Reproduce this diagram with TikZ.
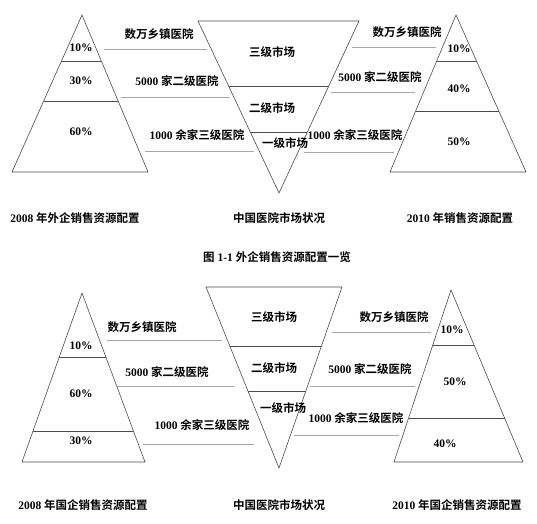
\documentclass[tikz,border=0pt]{standalone}
\usepackage{fontspec}
\setmainfont{Liberation Serif}
\newfontfamily\cjk{Noto Sans CJK SC}[BoldFont={Noto Sans CJK SC Bold}]
\usetikzlibrary{calc}
\newcommand{\zh}[1]{{\cjk #1}}

\begin{document}
\begin{tikzpicture}[x=1pt,y=-1pt,
    tri/.style={draw=black!70, line width=0.6pt},
    guide/.style={draw=black!35, line width=0.7pt},
    txt/.style={font=\bfseries\fontsize{11.5}{13}\selectfont, inner sep=0pt}]
  \fill[white] (0,0) rectangle (537,523);
  \useasboundingbox (0,0) rectangle (537,523);
  % top: foreign companies
  \coordinate (a1) at (82,15);  \coordinate (a2) at (12,172);  \coordinate (a3) at (148,172);
  \coordinate (m1) at (198,21); \coordinate (m2) at (359,21);  \coordinate (m3) at (279,193);
  \coordinate (b1) at (456,15); \coordinate (b2) at (390,172); \coordinate (b3) at (526,172);
  \draw[tri] (a1) -- (a2) -- (a3) -- cycle;
  \draw[tri] ($(a1)!0.293!(a2)$) -- ($(a1)!0.293!(a3)$);
  \draw[tri] ($(a1)!0.548!(a2)$) -- ($(a1)!0.548!(a3)$);
  \draw[tri] (m1) -- (m2) -- (m3) -- cycle;
  \draw[tri] ($(m1)!0.378!(m3)$) -- ($(m2)!0.378!(m3)$);
  \draw[tri] ($(m1)!0.645!(m3)$) -- ($(m2)!0.645!(m3)$);
  \draw[tri] (b1) -- (b2) -- (b3) -- cycle;
  \draw[tri] ($(b1)!0.293!(b2)$) -- ($(b1)!0.293!(b3)$);
  \draw[tri] ($(b1)!0.611!(b2)$) -- ($(b1)!0.611!(b3)$);
  \draw[guide] (104,49) -- (207,49);
  \draw[guide] (121,97) -- (230,97);
  \draw[guide] (145,151) -- (254,151);
  \draw[guide] (352,47) -- (436,47);
  \draw[guide] (331,92) -- (415,92);
  \draw[guide] (304,152) -- (394,152);
  \node[txt] (ap1) at (81,48)  {10\%};
  \node[txt] (ap2) at (81,81)  {30\%};
  \node[txt] (ap3) at (81,132) {60\%};
  \node[txt] (bp1) at (459,49)  {10\%};
  \node[txt] (bp2) at (459,89)  {40\%};
  \node[txt] (bp3) at (459,142) {50\%};
  \node[txt] (al1) at (159,34)  {\zh{数万乡镇医院}};
  \node[txt] (al2) at (177,81)  {5000 \zh{家二级医院}};
  \node[txt] (al3) at (197,135) {1000 \zh{余家三级医院}};
  \node[txt] (bl1) at (407,32)  {\zh{数万乡镇医院}};
  \node[txt] (bl2) at (380,77)  {5000 \zh{家二级医院}};
  \node[txt] (bl3) at (355,135) {1000 \zh{余家三级医院}};
  \node[txt] (ml1) at (272,52)  {\zh{三级市场}};
  \node[txt] (ml2) at (272,108) {\zh{二级市场}};
  \node[txt] (ml3) at (285,143) {\zh{一级市场}};
  \node[txt] (at) at (75,218)  {2008 \zh{年外企销售资源配置}};
  \node[txt] (mt) at (279,218) {\zh{中国医院市场状况}};
  \node[txt] (bt) at (460,218) {2010 \zh{年销售资源配置}};
  \node[txt] (cap) at (277,257) {\zh{图} 1-1 \zh{外企销售资源配置一览}};
  % bottom: state-owned companies
  \coordinate (c1) at (82,293);  \coordinate (c2) at (22,462);  \coordinate (c3) at (145,462);
  \coordinate (n1) at (206,287); \coordinate (n2) at (342,287); \coordinate (n3) at (279,468);
  \coordinate (d1) at (451,290); \coordinate (d2) at (394,462); \coordinate (d3) at (523,462);
  \draw[tri] (c1) -- (c2) -- (c3) -- cycle;
  \draw[tri] ($(c1)!0.379!(c2)$) -- ($(c1)!0.379!(c3)$);
  \draw[tri] ($(c1)!0.817!(c2)$) -- ($(c1)!0.817!(c3)$);
  \draw[tri] (n1) -- (n2) -- (n3) -- cycle;
  \draw[tri] ($(n1)!0.326!(n3)$) -- ($(n2)!0.326!(n3)$);
  \draw[tri] ($(n1)!0.575!(n3)$) -- ($(n2)!0.575!(n3)$);
  \draw[tri] (d1) -- (d2) -- (d3) -- cycle;
  \draw[tri] ($(d1)!0.320!(d2)$) -- ($(d1)!0.320!(d3)$);
  \draw[tri] ($(d1)!0.744!(d2)$) -- ($(d1)!0.744!(d3)$);
  \draw[guide] (107,340) -- (222,340);
  \draw[guide] (117,386) -- (234,386);
  \draw[guide] (143,444) -- (254,444);
  \draw[guide] (332,332) -- (431,332);
  \draw[guide] (310,386) -- (415,386);
  \draw[guide] (294,435) -- (399,435);
  \node[txt] (cp1) at (81,346) {10\%};
  \node[txt] (cp2) at (81,394) {60\%};
  \node[txt] (cp3) at (81,441) {30\%};
  \node[txt] (dp1) at (452,330) {10\%};
  \node[txt] (dp2) at (455,382) {50\%};
  \node[txt] (dp3) at (445,444) {40\%};
  \node[txt] (cl1) at (142,327) {\zh{数万乡镇医院}};
  \node[txt] (cl2) at (167,372) {5000 \zh{家二级医院}};
  \node[txt] (cl3) at (202,425) {1000 \zh{余家三级医院}};
  \node[txt] (dl1) at (394,317) {\zh{数万乡镇医院}};
  \node[txt] (dl2) at (370,369) {5000 \zh{家二级医院}};
  \node[txt] (dl3) at (356,418) {1000 \zh{余家三级医院}};
  \node[txt] (nl1) at (274,317) {\zh{三级市场}};
  \node[txt] (nl2) at (274,368) {\zh{二级市场}};
  \node[txt] (nl3) at (283,408) {\zh{一级市场}};
  \node[txt] (ct) at (83,505)  {2008 \zh{年国企销售资源配置}};
  \node[txt] (nt) at (279,505) {\zh{中国医院市场状况}};
  \node[txt] (dt) at (457,505) {2010 \zh{年国企销售资源配置}};
\end{tikzpicture}
\end{document}
